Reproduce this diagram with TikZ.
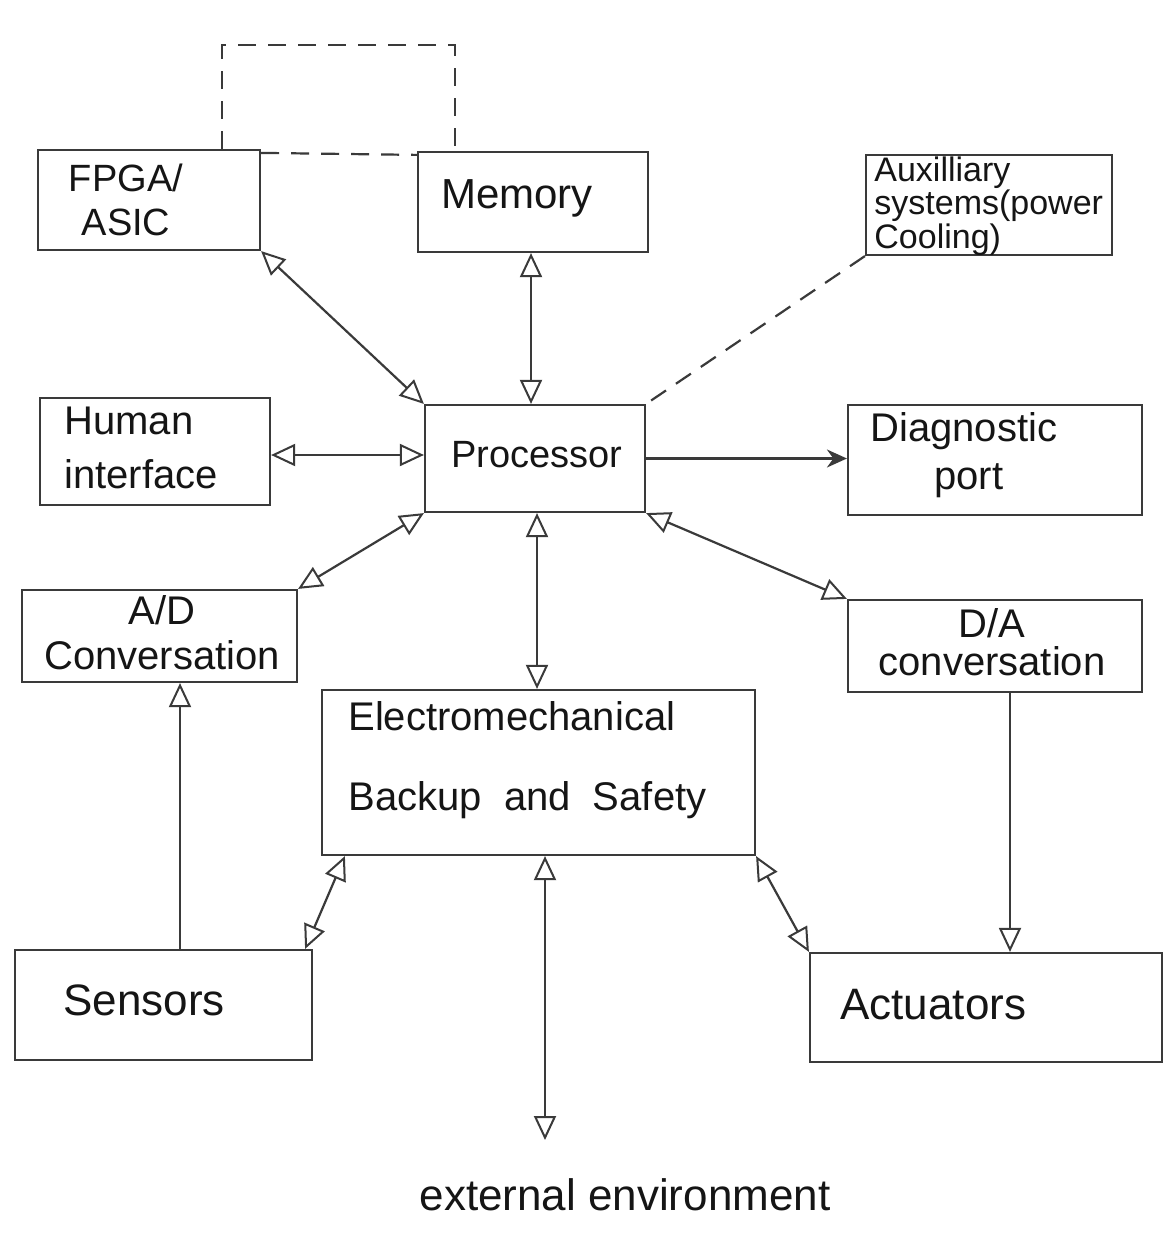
\documentclass[tikz,border=0pt]{standalone}
\usepackage{fontspec}
\setmainfont{Liberation Sans}
\usetikzlibrary{arrows.meta,calc}
\definecolor{pencil}{HTML}{3A3A3A}
\definecolor{ink}{HTML}{151515}
\tikzset{
  box/.style={draw=pencil, line width=1.1pt, rectangle, inner sep=0pt},
  lbl/.style={text=ink, inner sep=0pt},
  conn/.style={draw=pencil, line width=1.1pt},
  dashconn/.style={draw=pencil, line width=1.1pt, dash pattern=on 9pt off 6pt},
  >={Triangle[open,length=12pt,width=11pt,line width=1pt]},
}
\begin{document}
\begin{tikzpicture}[x=0.5pt,y=-0.5pt]
\useasboundingbox (0,0) rectangle (1175,1236);
\fill[white] (0,0) rectangle (1175,1236);

% boxes
\node[box, minimum width=111pt, minimum height=50pt] (fpga) at (149,200) {};
\node[box, minimum width=115pt, minimum height=50pt] (mem) at (533,202) {};
\node[box, minimum width=123pt, minimum height=50pt] (aux) at (989,205) {};
\node[box, minimum width=115pt, minimum height=53.5pt] (hum) at (155,451.5) {};
\node[box, minimum width=110pt, minimum height=53.5pt] (proc) at (535,458.5) {};
\node[box, minimum width=147pt, minimum height=55pt] (diag) at (995,460) {};
\node[box, minimum width=137.5pt, minimum height=46pt] (ad) at (159.5,636) {};
\node[box, minimum width=147pt, minimum height=46pt] (da) at (995,646) {};
\node[box, minimum width=216.5pt, minimum height=82.5pt] (em) at (538.5,772.5) {};
\node[box, minimum width=148.5pt, minimum height=55pt] (sen) at (163.5,1005) {};
\node[box, minimum width=176pt, minimum height=54.5pt] (act) at (986,1007.5) {};

% texts
\node[lbl, align=center, font=\fontsize{19}{22}\selectfont] (tfpga) at (126,200) {FPGA/\\ASIC};
\node[lbl, font=\fontsize{21}{24}\selectfont] (tmem) at (517,198) {Memory};
\node[lbl, anchor=west, align=left, font=\fontsize{17}{15.5}\selectfont] (taux) at (874,206) {Auxilliary\\systems(power\\Cooling)};
\node[lbl, anchor=west, align=left, font=\fontsize{20}{27}\selectfont] (thum) at (64,448) {Human\\interface};
\node[lbl, font=\fontsize{19}{22}\selectfont] (tproc) at (537,455) {Processor};
\node[lbl, anchor=west, align=left, font=\fontsize{20}{24}\selectfont] (tdiag) at (870,455) {Diagnostic\\\hspace*{1.6em}port};
\node[lbl, align=center, font=\fontsize{20}{22.5}\selectfont] (tad) at (162,633) {A/D\\Conversation};
\node[lbl, align=center, font=\fontsize{20}{19}\selectfont] (tda) at (992,642) {D/A\\conversation};
\node[lbl, anchor=west, align=left, font=\fontsize{20}{40}\selectfont] (tem) at (348,760) {Electromechanical\\Backup\ \ and\ \ Safety};
\node[lbl, anchor=west, font=\fontsize{22}{26}\selectfont] (tsen) at (63,1000) {Sensors};
\node[lbl, anchor=west, font=\fontsize{22}{26}\selectfont] (tact) at (840,1005) {Actuators};
\node[lbl, font=\fontsize{22}{26}\selectfont] (env) at (625,1195) {external environment};

% helper coordinates
\coordinate (xtop1) at (222,45);
\coordinate (xtop2) at (455,45);
\coordinate (xmem) at (531,0);
\coordinate (xem) at (537,0);
\coordinate (yhum) at (0,455);
\coordinate (xs) at (180,0);
\coordinate (xa) at (1010,0);
\coordinate (envtip) at (545,1140);

% dashed links at top
\draw[dashconn] (fpga.north -| xtop1) -- (xtop1) -- (xtop2) -- (mem.north -| xtop2);
\draw[dashconn] ($(fpga.north east)+(0,4)$) -- ($(mem.north west)+(0,4)$);
\draw[dashconn] (aux.south west) -- (proc.north east);

% connectors
\draw[conn,<->] (fpga.south east) -- (proc.north west);
\draw[conn,<->] (mem.south -| xmem) -- (proc.north -| xmem);
\draw[conn,<->] (hum.east |- yhum) -- (proc.west |- yhum);
\draw[conn,-{Stealth[length=10pt,width=9pt]}] (proc.east) -- (proc.east -| diag.west);
\draw[conn,<->] (proc.south west) -- (ad.north east);
\draw[conn,<->] (proc.south east) -- (da.north west);
\draw[conn,<->] (proc.south -| xem) -- (em.north -| xem);
\draw[conn,->] (sen.north -| xs) -- (ad.south -| xs);
\draw[conn,->] (da.south -| xa) -- (act.north -| xa);
\draw[conn,<->] ($(sen.north east)+(-8,0)$) -- ($(em.south west)+(24,0)$);
\draw[conn,<->] (em.south east) -- (act.north west);
\draw[conn,<->] (em.south -| envtip) -- (envtip);
\end{tikzpicture}
\end{document}
